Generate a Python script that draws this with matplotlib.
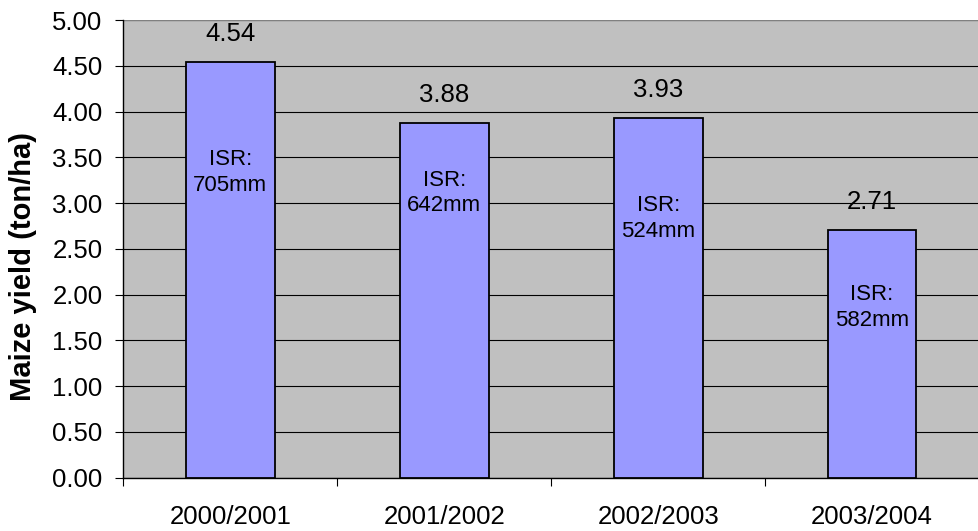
import matplotlib
matplotlib.use("Agg")
import matplotlib.pyplot as plt
import numpy as np

seasons = ["2000/2001", "2001/2002", "2002/2003", "2003/2004"]
yields = [4.54, 3.88, 3.93, 2.71]
isr_mm = [705, 642, 524, 582]
# vertical placement (data units) of the ISR annotations inside each bar
isr_label_y = [3.33, 3.11, 2.83, 1.86]

plt.rcParams['font.family'] = ['Liberation Sans', 'DejaVu Sans']

fig = plt.figure(figsize=(9.79, 5.31), dpi=100)
ax = fig.add_axes([0.126, 0.1004, 0.874, 0.8619])
ax.set_facecolor('#C0C0C0')

x = np.arange(len(seasons))
ax.bar(x, yields, width=0.415, color='#9999FF', edgecolor='black', linewidth=1.3, zorder=3)

ax.set_ylim(0, 5)
ax.set_xlim(-0.5, len(seasons) - 0.5)
ax.set_yticks(np.arange(0, 5.01, 0.5))
ax.set_yticklabels([f"{v:.2f}" for v in np.arange(0, 5.01, 0.5)])
ax.yaxis.grid(True, color='black', linewidth=0.8, zorder=1)
ax.set_axisbelow(True)

# category boundaries as major ticks, labels on minor ticks
ax.set_xticks(np.arange(-0.5, len(seasons) - 0.5, 1.0))
ax.set_xticklabels([])
ax.set_xticks(x, minor=True)
ax.set_xticklabels(seasons, minor=True)
ax.tick_params(axis='x', which='major', direction='out', length=6, width=0.8, color='black')
ax.tick_params(axis='x', which='minor', length=0, pad=20, labelsize=18.5)
ax.tick_params(axis='y', direction='out', length=6, width=0.8, pad=9, labelsize=18.5)

for s in ['top', 'right']:
    ax.spines[s].set_visible(False)
ax.spines['left'].set_color('black')
ax.spines['bottom'].set_color('black')
ax.spines['left'].set_linewidth(1.0)
ax.spines['bottom'].set_linewidth(1.0)
ax.axhline(5.0, color='#808080', linewidth=1.6, zorder=2)

for xi, v in zip(x, yields):
    ax.annotate(f"{v:.2f}", (xi, v), xytext=(0, 15), textcoords='offset points',
                ha='center', va='baseline', fontsize=18.5, zorder=4)

for xi, mm, ly in zip(x, isr_mm, isr_label_y):
    ax.text(xi, ly, f"ISR:\n{mm}mm", ha='center', va='center', fontsize=16,
            linespacing=1.3, zorder=4)

fig.text(23 / 979, 0.499, "Maize yield (ton/ha)", rotation=90, ha='center', va='center',
         fontsize=21, fontweight='bold')

fig.savefig("out.png", dpi=100)
